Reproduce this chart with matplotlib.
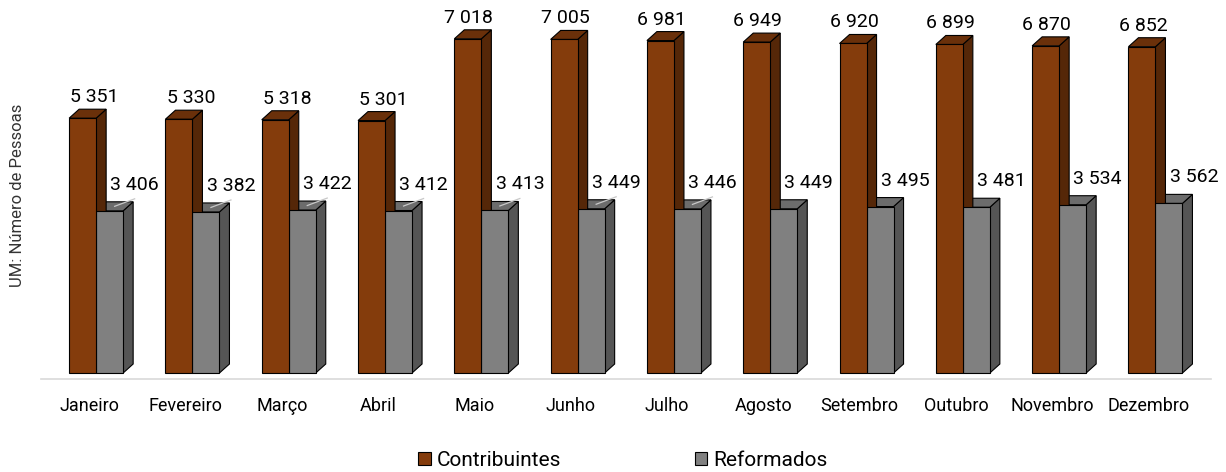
import matplotlib.pyplot as plt
from matplotlib.patches import Polygon, Patch

plt.rcParams['font.family'] = ['Roboto', 'DejaVu Sans']

meses = ['Janeiro', 'Fevereiro', 'Março', 'Abril', 'Maio', 'Junho',
         'Julho', 'Agosto', 'Setembro', 'Outubro', 'Novembro', 'Dezembro']
contribuintes = [5351, 5330, 5318, 5301, 7018, 7005, 6981, 6949, 6920, 6899, 6870, 6852]
reformados = [3406, 3382, 3422, 3412, 3413, 3449, 3446, 3449, 3495, 3481, 3534, 3562]

# colours: front, side, top
cor_contrib = ('#843c0c', '#552708', '#6a300a')
cor_reform = ('#808080', '#555555', '#6c6c6c')

W, H = 1226, 472
fig = plt.figure(figsize=(W / 100, H / 100), dpi=100)
ax = fig.add_axes([41 / W, (H - 379) / H, 1170 / W, 379 / H])

px_y = 21.0            # value units per pixel
px_x = 1 / 96.3        # category units per pixel
ax.set_xlim(-0.5, -0.5 + 1170 * px_x)
ax.set_ylim(-6 * px_y, 373 * px_y)

dx = 10 * px_x         # 3D depth offset
dy = 9 * px_y
bw = 27 * px_x


def bar3d(x0, h, cores):
    ax.bar(x0, h, width=bw, align='edge', color=cores[0],
           edgecolor='black', linewidth=0.8, zorder=3)
    lado = [(x0 + bw, 0), (x0 + bw + dx, dy), (x0 + bw + dx, h + dy), (x0 + bw, h)]
    topo = [(x0, h), (x0 + dx, h + dy), (x0 + bw + dx, h + dy), (x0 + bw, h)]
    ax.add_patch(Polygon(lado, closed=True, facecolor=cores[1],
                         edgecolor='black', linewidth=0.8, zorder=2))
    ax.add_patch(Polygon(topo, closed=True, facecolor=cores[2],
                         edgecolor='black', linewidth=0.8, zorder=2))


def fmt(v):
    return f'{v:,}'.replace(',', ' ')


for i, (c, r) in enumerate(zip(contribuintes, reformados)):
    xo = i - 20 * px_x
    xg = i + 7 * px_x
    # grey bar first so the orange side face overlaps it
    bar3d(xg, r, cor_reform)
    bar3d(xo, c, cor_contrib)

    nud = 12 if i < 4 else 1
    ax.text(xo + bw / 2 + nud * px_x, c + dy + 3 * px_y, fmt(c),
            ha='center', va='bottom', fontsize=14, color='black', zorder=5)

    lx = xg + bw / 2 + 25 * px_x
    ly = r + dy + 8 * px_y
    ax.text(lx, ly, fmt(r), ha='center', va='bottom', fontsize=14,
            color='black', zorder=5)
    if i < 7:
        ax.plot([xg + bw / 2 + dx / 2, lx],
                [r + dy / 2, ly - 5 * px_y],
                color='#c8c8c8', linewidth=0.9, zorder=4)

ax.set_xticks(range(len(meses)))
ax.set_xticklabels(meses, fontsize=13)
ax.tick_params(axis='x', length=0, pad=13)
ax.set_yticks([])
for s in ['top', 'right', 'left']:
    ax.spines[s].set_visible(False)
ax.spines['bottom'].set_color('#d9d9d9')
ax.spines['bottom'].set_linewidth(1.2)

fig.text(18 / W, 1 - 195 / H, 'UM: Número de Pessoas', rotation=90,
         ha='center', va='center', fontsize=12, color='#333333')

handles = [Patch(facecolor=cor_contrib[0], edgecolor='black', linewidth=0.8),
           Patch(facecolor=cor_reform[0], edgecolor='black', linewidth=0.8)]
fig.legend(handles, ['Contribuintes', 'Reformados'], loc='center',
           bbox_to_anchor=(623 / W, 1 - 460 / H), ncol=2, frameon=False,
           fontsize=15, handlelength=0.6, handleheight=0.6,
           handletextpad=0.3, columnspacing=6.4)

fig.savefig('out.png', dpi=100)
